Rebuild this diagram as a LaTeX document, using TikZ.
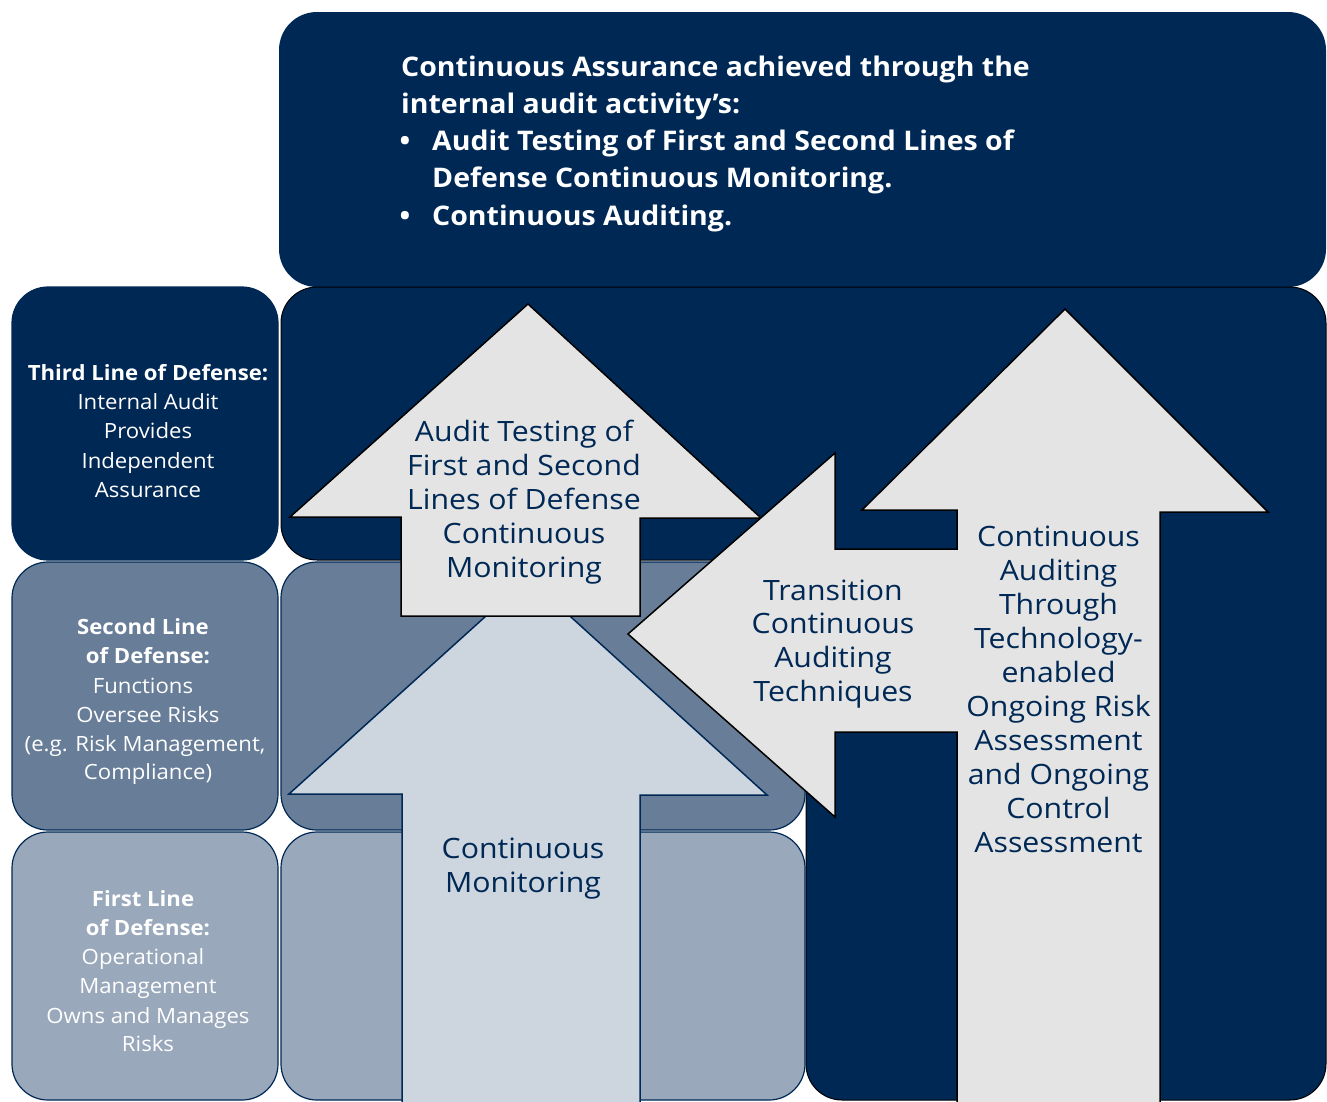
\documentclass[tikz,border=0pt]{standalone}
\usepackage{fontspec}
\setmainfont{Open Sans}[FakeStretch=1.055]
\newfontfamily\arrfont{Open Sans}[FakeStretch=1.08]
\definecolor{navy}{RGB}{0,40,85}
\definecolor{slate}{RGB}{104,125,152}
\definecolor{lslate}{RGB}{153,168,187}
\definecolor{armA}{RGB}{205,213,223}
\definecolor{armgrey}{RGB}{228,228,228}
\begin{document}
\begin{tikzpicture}[x=1pt,y=-1pt,
  box/.style={rounded corners=36pt, draw=navy, line width=1.2pt},
  arrowgrey/.style={fill=armgrey, draw=black, line width=1.5pt},
  wt/.style={text=white, font=\fontsize{21}{21}\selectfont, inner sep=0pt, anchor=base},
  wtb/.style={wt, font=\bfseries\fontsize{21}{21}\selectfont},
  arrtxt/.style={text=navy, font=\arrfont\fontsize{28}{28}\selectfont, inner sep=0pt, anchor=base},
  tt/.style={text=white, font=\bfseries\fontsize{27}{27}\selectfont, inner sep=0pt, anchor=base west}]
\clip (0,0) rectangle (1327,1101);
\fill[white] (0,0) rectangle (1327,1101);
% top box
\fill[navy, rounded corners=38pt] (279,12) rectangle (1326,287);
% left column
\draw[box, fill=navy] (12,287) rectangle (278,560);
\draw[box, fill=slate] (12,562) rectangle (278,830);
\draw[box, fill=lslate] (12,832) rectangle (278,1100);
% right navy region
\draw[fill=navy, draw=black, line width=1pt, rounded corners=36pt]
  (281,287) -- (1326,287) -- (1326,1100) -- (806,1100) -- (806,560) -- (281,560) -- cycle;
% middle boxes
\draw[box, fill=slate] (281,562) rectangle (805,830);
\draw[box, fill=lslate] (281,832) rectangle (805,1100);
% arrow A: continuous monitoring
\draw[fill=armA, draw=navy, line width=1.5pt]
  (528,578) -- (767,795) -- (640,795) -- (640,1110) -- (402,1110) -- (402,794) -- (289,794) -- cycle;
% arrow B: audit testing
\draw[arrowgrey]
  (528,304) -- (761,518) -- (640,518) -- (640,616) -- (401,616) -- (401,517) -- (290,517) -- cycle;
% arrows D and C
\draw[arrowgrey]
  (1065,309) -- (1268,512) -- (1160,512) -- (1160,1110) -- (957,1110) -- (957,732) -- (835,732)
  -- (835,817) -- (628,634) -- (835,453) -- (835,549) -- (957,549) -- (957,510) -- (862,510) -- cycle;
% top text
\node[tt] (t1) at (401,76) {Continuous Assurance achieved through the};
\node[tt] (t2) at (401,113) {internal audit activity’s:};
\node[tt, anchor=base] (b1) at (405,150) {•};
\node[tt] (t3) at (432,150) {Audit Testing of First and Second Lines of};
\node[tt] (t4) at (432,187) {Defense Continuous Monitoring.};
\node[tt, anchor=base] (b2) at (405,225) {•};
\node[tt] (t5) at (432,225) {Continuous Auditing.};
% left texts
\node[wtb] (l31) at (148,380) {Third Line of Defense:};
\node[wt] (l32) at (148,409) {Internal Audit};
\node[wt] (l33) at (148,438) {Provides};
\node[wt] (l34) at (148,468) {Independent};
\node[wt] (l35) at (148,497) {Assurance};
\node[wtb] (l21) at (143,634) {Second Line};
\node[wtb] (l22) at (148,663) {of Defense:};
\node[wt] (l23) at (143,693) {Functions};
\node[wt] (l24) at (148,722) {Oversee Risks};
\node[wt] (l25) at (145,751) {(e.g. Risk Management,};
\node[wt] (l26) at (148,779) {Compliance)};
\node[wtb] (l11) at (143,906) {First Line};
\node[wtb] (l12) at (148,935) {of Defense:};
\node[wt] (l13) at (143,964) {Operational};
\node[wt] (l14) at (148,993) {Management};
\node[wt] (l15) at (148,1023) {Owns and Manages};
\node[wt] (l16) at (148,1051) {Risks};
% arrow texts
\foreach \t [count=\i] in {Audit Testing of, First and Second, Lines of Defense, Continuous, Monitoring}
  \node[arrtxt] (ab\i) at (524,{441+34*(\i-1)}) {\t};
\foreach \t [count=\i] in {Transition, Continuous, Auditing, Techniques}
  \node[arrtxt] (ac\i) at (833,{600+33.7*(\i-1)}) {\t};
\foreach \t [count=\i] in {Continuous, Auditing, Through, Technology-, enabled, Ongoing Risk, Assessment, and Ongoing, Control, Assessment}
  \node[arrtxt] (ad\i) at (1058.5,{546+34*(\i-1)}) {\t};
\node[arrtxt] (aa1) at (523,858) {Continuous};
\node[arrtxt] (aa2) at (523,892) {Monitoring};
\end{tikzpicture}
\end{document}
